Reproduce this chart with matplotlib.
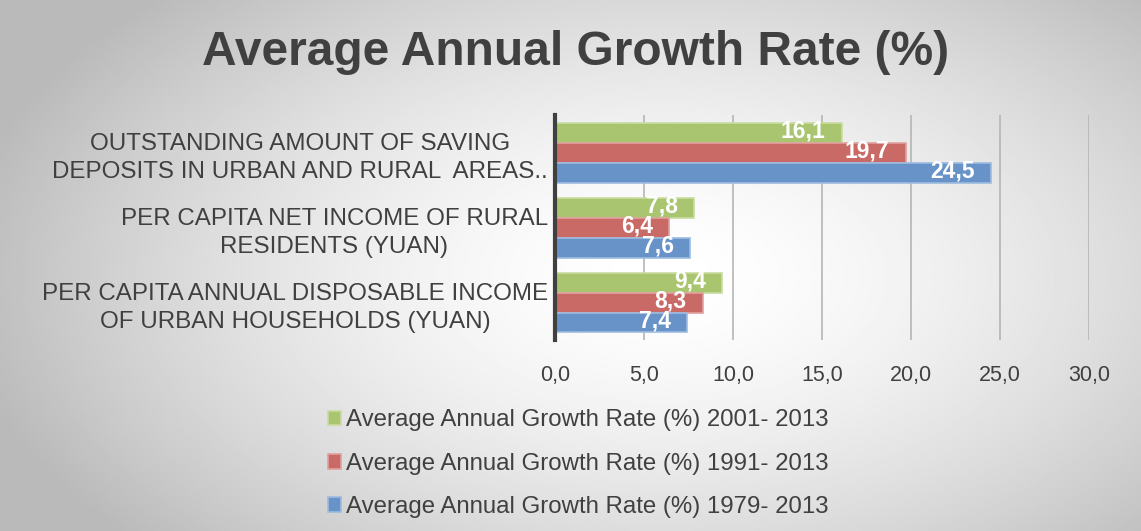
import matplotlib.pyplot as plt
import numpy as np
from matplotlib.ticker import FuncFormatter

plt.rcParams["font.family"] = ["Liberation Sans", "DejaVu Sans"]

# === Data (bottom -> top on the chart) ===
categories = [
    "PER CAPITA ANNUAL DISPOSABLE INCOME\nOF URBAN HOUSEHOLDS (YUAN)",
    "PER CAPITA NET INCOME OF RURAL\nRESIDENTS (YUAN)",
    "OUTSTANDING AMOUNT OF SAVING\nDEPOSITS IN URBAN AND RURAL  AREAS..",
]
series_names = [
    "Average Annual Growth Rate (%) 2001- 2013",
    "Average Annual Growth Rate (%) 1991- 2013",
    "Average Annual Growth Rate (%) 1979- 2013",
]
rate_2001 = [9.4, 7.8, 16.1]
rate_1991 = [8.3, 6.4, 19.7]
rate_1979 = [7.4, 7.6, 24.5]

colors = ["#a9c570", "#c96a67", "#6893c8"]
edges = ["#c9dca0", "#e0a09e", "#9dbbe0"]

fig = plt.figure(figsize=(11.41, 5.31), dpi=100)

# radial grey background
bg = fig.add_axes([0, 0, 1, 1], zorder=-10)
yy, xx = np.mgrid[0:1:300j, 0:1:600j]
r = np.sqrt(((xx - 0.58) / 0.62) ** 2 + ((yy - 0.52) / 0.75) ** 2)
shade = 1.0 - 0.27 * np.clip(r, 0, 1) ** 1.6
bg.imshow(shade, cmap="gray", vmin=0, vmax=1, extent=[0, 1, 0, 1],
          aspect="auto", interpolation="bilinear")
bg.set_axis_off()

ax = fig.add_axes([0.4864, 0.3597, 0.468, 0.4237])
ax.set_facecolor("none")

y = np.arange(len(categories))
h = 0.8 / 3
series = [rate_2001, rate_1991, rate_1979]
offsets = [h, 0, -h]

for vals, off, c, ec, name in zip(series, offsets, colors, edges, series_names):
    bars = ax.barh(y + off, vals, height=h, color=c, edgecolor=ec,
                   linewidth=1.2, label=name, zorder=3)
    for b, v in zip(bars, vals):
        ax.text(v - 0.9, b.get_y() + b.get_height() / 2 + 0.02,
                f"{v:.1f}".replace(".", ","), ha="right", va="center",
                color="white", fontsize=16.5, fontweight="bold", zorder=4)

ax.set_xlim(0, 30)
ax.set_ylim(-0.5, len(categories) - 0.5)
ax.set_xticks(np.arange(0, 31, 5))
ax.xaxis.set_major_formatter(FuncFormatter(lambda v, p: f"{v:.1f}".replace(".", ",")))
ax.set_yticks(y)
ax.set_yticklabels(categories, multialignment="center", linespacing=1.37)
ax.tick_params(axis="x", length=0, pad=18, labelsize=15.5, labelcolor="#404040")
ax.tick_params(axis="y", length=0, pad=5, labelsize=17.4, labelcolor="#404040")

ax.grid(axis="x", color="#b5b5b5", linewidth=1.2, zorder=0)
for s in ["top", "right", "bottom"]:
    ax.spines[s].set_visible(False)
ax.spines["left"].set_color("#404040")
ax.spines["left"].set_linewidth(3)
ax.spines["left"].set_zorder(5)

fig.text(0.504, 0.902, "Average Annual Growth Rate (%)", ha="center", va="center",
         fontsize=34.5, fontweight="bold", color="#404040")

fig.legend(loc="center", bbox_to_anchor=(0.507, 0.1265), frameon=False,
           fontsize=17.3, labelcolor="#404040", handlelength=0.55, handleheight=0.55,
           handletextpad=0.2, labelspacing=0.89)

fig.savefig("out.png", dpi=100)
